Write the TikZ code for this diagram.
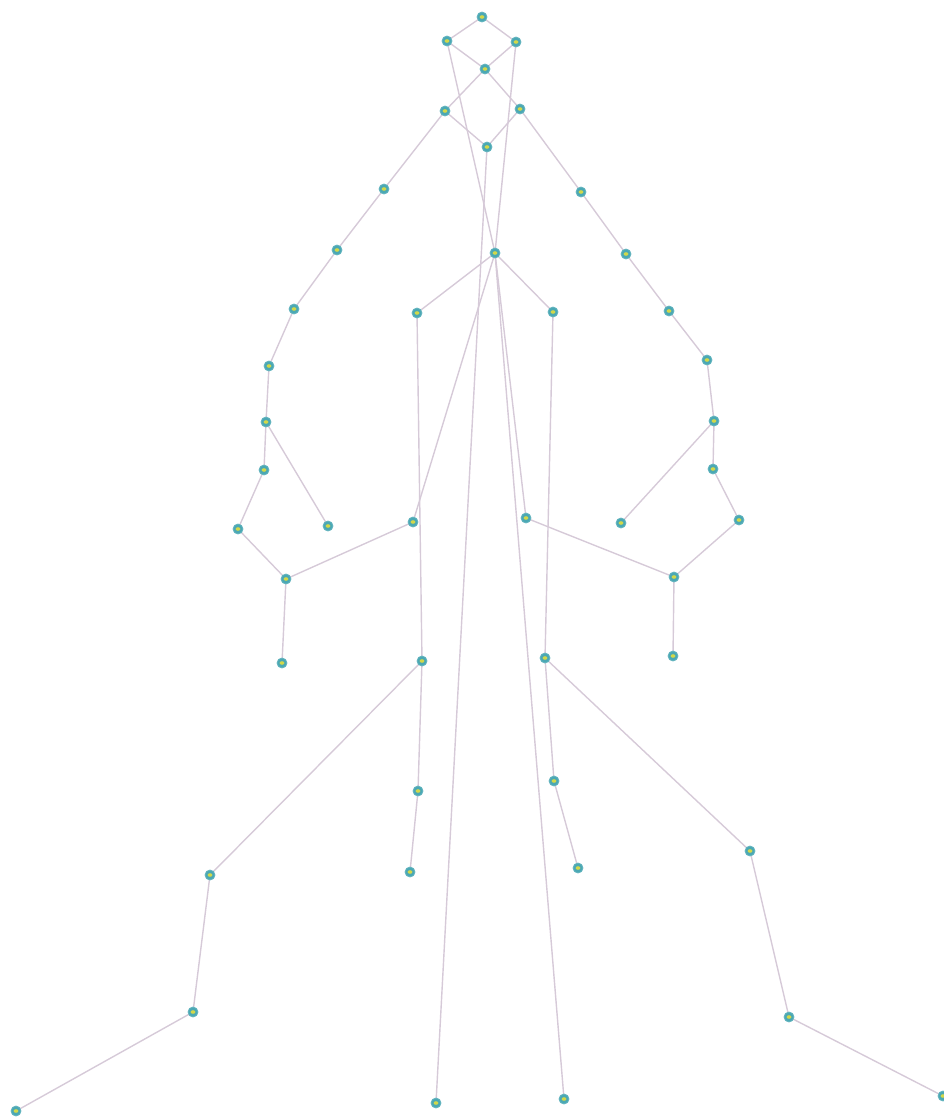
\documentclass[tikz,border=0pt]{standalone}
\definecolor{edgec}{HTML}{D6CAD8}
\definecolor{nodeout}{HTML}{4AA8B4}
\definecolor{nodein}{HTML}{D2D84A}
\tikzset{
  vtx/.style={circle, minimum size=10pt, inner sep=0pt, draw=nodeout!85!white, line width=0.8pt,
    fill=nodeout, path picture={\fill[nodein] (path picture bounding box.center) ellipse (2.4pt and 1.8pt);}},
  lnk/.style={draw=edgec, line width=1.4pt}
}
\begin{document}
\begin{tikzpicture}[x=1pt,y=-1pt]
\useasboundingbox (0,0) rectangle (944,1117);
\clip (0,0) rectangle (944,1117);
\foreach \n/\x/\y in {
 1/482/17, 2/447/41, 3/516/42, 4/485/69, 5/445/111, 6/520/109, 7/487/147,
 8/384/189, 9/581/192, 10/337/250, 11/626/254, 12/495/253, 13/294/309, 14/417/313,
 15/553/312, 16/669/311, 17/269/366, 18/707/360, 19/266/422, 20/714/421,
 21/264/470, 22/713/469, 23/238/529, 24/328/526, 25/413/522, 26/526/518,
 27/621/523, 28/739/520, 29/286/579, 30/674/577, 31/282/663, 32/673/656,
 33/422/661, 34/545/658, 35/418/791, 36/554/781, 37/410/872, 38/578/868,
 39/210/875, 40/750/851, 41/193/1012, 42/789/1017, 43/16/1111, 44/943/1096,
 45/436/1103, 46/564/1099}
 \coordinate (n\n) at (\x,\y);
\foreach \a/\b in {1/2,1/3,2/4,3/4,4/5,4/6,5/7,6/7,
 2/12,3/12,7/45,12/14,12/15,12/25,12/26,12/46,
 5/8,8/10,10/13,13/17,17/19,19/21,19/24,21/23,23/29,29/25,29/31,
 6/9,9/11,11/16,16/18,18/20,20/22,20/27,22/28,28/30,30/26,30/32,
 14/33,33/35,35/37,33/39,39/41,41/43,
 15/34,34/36,36/38,34/40,40/42,42/44}
 \draw[lnk] (n\a) -- (n\b);
\foreach \n in {1,...,46}
 \node[vtx] (v\n) at (n\n) {};
\end{tikzpicture}
\end{document}
